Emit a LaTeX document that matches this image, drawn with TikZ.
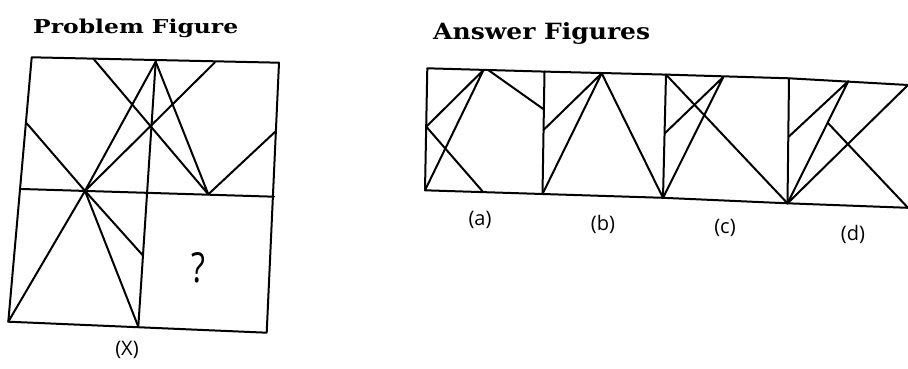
\documentclass[tikz,border=0pt]{standalone}
\usepackage{fontspec}
\usepackage{graphicx}
\setmainfont{DejaVu Serif}
\newfontfamily\lblfont{Open Sans}
\usetikzlibrary{calc}
\begin{document}
\begin{tikzpicture}[x=1pt,y=-1pt,
  ln/.style={line width=2pt,line cap=round,line join=round},
  title/.style={inner sep=0pt,anchor=base west,font=\bfseries},
  lbl/.style={inner sep=0pt,font=\lblfont\fontsize{20}{24}\selectfont}]
\useasboundingbox (0,0) rectangle (908,369);
% ---------------- Problem figure ----------------
\coordinate (TL) at (31.7,57.3);
\coordinate (TR) at (279,62.7);
\coordinate (BR) at (266.7,332.7);
\coordinate (BL) at (8.3,321.7);
\coordinate (HL) at (21.7,189);
\coordinate (HR) at (274,196.7);
\coordinate (VT) at (155.7,61.7);
\coordinate (VB) at (138.3,326.7);
\coordinate (A) at (93.3,58.6);
\coordinate (V) at (208.3,194.3);
\coordinate (R) at (276,131);
\coordinate (L) at (26.7,123.3);
\coordinate (P) at (85,190.9);
\coordinate (Q) at (215,62.3);
\coordinate (M) at (142.5,255);
\draw[ln] (TL) -- (TR) -- (BR) -- (BL) -- cycle;
\draw[ln] (HL) -- (HR);
\draw[ln] (VT) -- (VB);
\draw[ln] (A) -- (V) -- (VT);
\draw[ln] (V) -- (R);
\draw[ln] (L) -- (P) -- (VT);
\draw[ln] (P) -- (Q);
\draw[ln] (P) -- (BL);
\draw[ln] (P) -- (VB);
\draw[ln] (P) -- (M);
\node[inner sep=0pt,font=\lblfont\fontsize{36}{40}\selectfont] (qm) at (198,268) {\scalebox{0.9}[1.15]{?}};
\node[lbl] (X) at (127,350) {(X)};
\node[title] (pt) at (33,33.5) {\resizebox{205pt}{14.5pt}{Problem Figure}};
% ---------------- Answer figures ----------------
\node[title] (at) at (433,40) {\resizebox{217pt}{17pt}{Answer Figures}};
\coordinate (t0) at (427.3,68.3);
\coordinate (t1) at (544.5,71.6);
\coordinate (t2) at (666,74.6);
\coordinate (t3) at (789,78.3);
\coordinate (t4) at (908,85);
\coordinate (b0) at (425,190.3);
\coordinate (b1) at (542.5,194);
\coordinate (b2) at (663,197.8);
\coordinate (b3) at (787.5,203.3);
\coordinate (b4) at (908,207.8);
\draw[ln] (t4) -- (t3) -- (t2) -- (t1) -- (t0) -- (b0) -- (b1) -- (b2) -- (b3) -- (b4);
\draw[ln] (t1) -- (b1);
\draw[ln] (t2) -- (b2);
\draw[ln] (t3) -- (b3);
% (a)
\coordinate (La) at (426.3,126.7);
\coordinate (Ta) at (483.5,70);
\coordinate (Tb2) at (488.5,70.2);
\coordinate (Ra) at (543.7,109.3);
\coordinate (Ba) at (483.3,192.2);
\draw[ln] (La) -- (Ta) -- (b0);
\draw[ln] (Tb2) -- (Ra);
\draw[ln] (La) -- (Ba);
% (b)
\coordinate (Lb) at (543.5,130);
\coordinate (Tb) at (601.7,73.3);
\draw[ln] (Lb) -- (Tb) -- (b1);
\draw[ln] (Tb) -- (b2);
% (c)
\coordinate (Lc) at (664.8,133.3);
\coordinate (Tc) at (723.3,77);
\draw[ln] (t2) -- (b3);
\draw[ln] (Lc) -- (Tc) -- (b2);
% (d)
\coordinate (Ld) at (788.7,136.7);
\coordinate (Td) at (848.3,81.2);
\coordinate (Md) at ($(b3)!0.66!(Td)$);
\draw[ln] (Ld) -- (Td) -- (b3);
\draw[ln] (b3) -- (t4);
\draw[ln] (Md) -- (b4);
% labels
\node[lbl] (la) at (480,220) {(a)};
\node[lbl] (lb) at (603,224) {(b)};
\node[lbl] (lc) at (725,228) {(c)};
\node[lbl] (ld) at (853,234) {(d)};
\end{tikzpicture}
\end{document}
